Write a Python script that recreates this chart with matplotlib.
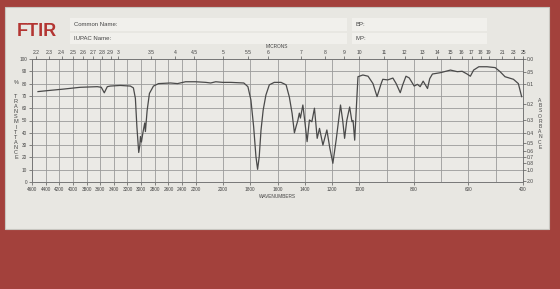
import matplotlib.pyplot as plt
import numpy as np
from matplotlib.patches import Rectangle

plt.rcParams['font.family'] = ['Liberation Sans Narrow', 'Liberation Sans', 'DejaVu Sans']

# spectrum (wavenumber cm-1, %T)
wavenumber = [4512, 4335, 4144, 3893, 3643, 3584, 3540, 3496, 3452, 3305, 3157, 3113,
              3084, 3062, 3035, 3018, 3010, 2995, 2974, 2947, 2937, 2912, 2878, 2819,
              2745, 2569, 2466, 2348, 2200, 2126, 2090, 2053, 2001, 1942, 1847, 1817,
              1795, 1775, 1758, 1746, 1734, 1721, 1705, 1685, 1660, 1624, 1574, 1537,
              1513, 1493, 1476, 1464, 1451, 1440, 1432, 1414, 1398, 1383, 1366, 1348,
              1329, 1309, 1292, 1267, 1238, 1217, 1194, 1169, 1138, 1122, 1108, 1092,
              1071, 1054, 1046, 1034, 1022, 1010, 987, 968, 950, 935, 920, 914,
              896, 877, 865, 850, 841, 829, 817, 799, 787, 777, 766, 759,
              750, 742, 732, 702, 666, 641, 623, 605, 593, 581, 562, 532,
              502, 484, 466, 435, 417, 405]
transmittance = [73.5, 74.5, 75.5, 77, 77.5, 77, 72.5, 77.5, 78, 78.5, 78, 76.5,
                 68, 45, 24, 30, 37, 32.5, 40, 48, 41, 58, 72, 78,
                 80, 80.5, 80, 81.5, 81.5, 81, 80.5, 81.5, 81, 81, 80.5, 77.5,
                 66.7, 45, 20.6, 10.3, 20.6, 42, 58.5, 70.7, 79, 81, 81, 79,
                 69, 55.8, 40, 45, 50, 56, 52, 62.6, 47.7, 32.8, 50.4, 49,
                 60, 35.5, 43.6, 30, 42.3, 28, 15.2, 35, 62.6, 50, 35.5, 50,
                 61, 49, 50, 34, 60, 85.6, 87, 86, 80, 69.4, 80, 83.5,
                 83, 84.5, 80, 72.6, 79, 86, 84.6, 78, 79.4, 77.5, 82, 79.4,
                 76, 84, 87.8, 88.9, 91, 89.7, 90, 87.8, 86, 91, 93.7, 93.7,
                 93, 89.7, 85.6, 83.5, 80, 69.4]

wn_labels = [4600, 4400, 4200, 4000, 3800, 3600, 3400, 3200, 3000, 2800, 2600, 2400,
             2200, 2000, 1800, 1600, 1400, 1200, 1000, 800, 600, 400]
wn_minor = [900, 700, 500]
microns = ['2.2', '2.3', '2.4', '2.5', '2.6', '2.7', '2.8', '2.9', '3', '3.5', '4', '4.5',
           '5', '5.5', '6', '7', '8', '9', '10', '11', '12', '13', '14', '15', '16', '17',
           '18', '19', '21', '23', '25']
absorb = ['0.0', '.05', '0.1', '0.2', '0.3', '0.4', '0.5', '0.6', '0.7', '0.8', '1.0', '2.0']


# the chart paper has 3 equal-width sections: 4600-2200, 2200-1000, 1000-400
def fwd(w):
    w = np.asarray(w, dtype=float)
    return np.where(w <= 1000, (w - 400) / 600,
                    np.where(w <= 2200, 1 + (w - 1000) / 1200, 2 + (w - 2200) / 2400))


def inv(p):
    p = np.asarray(p, dtype=float)
    return np.where(p <= 1, 400 + 600 * p,
                    np.where(p <= 2, 1000 + 1200 * (p - 1), 2200 + 2400 * (p - 2)))


W, H = 560, 289
fig = plt.figure(figsize=(5.6, 2.89), dpi=100, facecolor='#a3413c')
fig.add_artist(Rectangle((5 / W, 1 - 229 / H), 544 / W, 222 / H, transform=fig.transFigure,
                         facecolor='#e8e7e2', edgecolor='#c8c6c0', lw=0.8, zorder=-2))
# name boxes
for x0, x1, y0, y1 in [(70, 347, 18, 31), (70, 347, 33, 44), (352, 487, 18, 31), (352, 487, 33, 44)]:
    fig.add_artist(Rectangle((x0 / W, 1 - y1 / H), (x1 - x0) / W, (y1 - y0) / H,
                             transform=fig.transFigure, facecolor='#f1f0ec', edgecolor='none',
                             zorder=-1))

fig.text(17 / W, 1 - 31 / H, 'FTIR', fontsize=13, fontweight='bold', color='#b33532', va='center')
fig.text(74 / W, 1 - 24.5 / H, 'Common Name:', fontsize=4.3, color='#444444', va='center')
fig.text(74 / W, 1 - 38.5 / H, 'IUPAC Name:', fontsize=4.3, color='#444444', va='center')
fig.text(356 / W, 1 - 24.5 / H, 'BP:', fontsize=4.3, color='#444444', va='center')
fig.text(356 / W, 1 - 38.5 / H, 'MP:', fontsize=4.3, color='#444444', va='center')

ax = fig.add_axes([32 / W, 1 - 182 / H, 491 / W, 123 / H])
ax.set_facecolor('#ebeae6')
ax.set_xscale('function', functions=(fwd, inv))
ax.plot(wavenumber, transmittance, color='#4a4a4a', lw=0.9)
ax.set_xlim(4600, 400)
ax.set_ylim(0, 100)

ax.set_xticks(wn_labels)
ax.set_xticklabels([str(v) for v in wn_labels])
ax.set_xticks(wn_minor, minor=True)
ax.set_yticks(range(0, 101, 10))
ax.grid(which='both', color='#9a9a9a', lw=0.6)
ax.tick_params(axis='both', which='both', labelsize=3.4, length=2, width=0.5, pad=1.5,
               colors='#555555', labelcolor='#444444')
ax.tick_params(axis='x', which='minor', length=0)
for s in ax.spines.values():
    s.set_color('#777777')
    s.set_linewidth(0.7)

# microns on top
ax2 = ax.twiny()
ax2.set_xscale('function', functions=(fwd, inv))
ax2.set_xlim(4600, 400)
ax2.set_xticks([10000 / float(m) for m in microns])
ax2.set_xticklabels(microns)
ax2.tick_params(labelsize=3.6, length=2, width=0.5, pad=0.8, colors='#555555', labelcolor='#444444')
ax2.set_xticks([], minor=True)

# absorbance on right
ax3 = ax.twinx()
ax3.set_ylim(0, 100)
ax3.set_yticks([100 * 10 ** (-float(a)) for a in absorb])
ax3.set_yticklabels(absorb)
ax3.tick_params(labelsize=3.6, length=2, width=0.5, pad=0.8, colors='#555555', labelcolor='#444444')
ax3.set_yticks([], minor=True)
for a in (ax2, ax3):
    for s in a.spines.values():
        s.set_visible(False)

fig.text(277 / W, 1 - 47 / H, 'MICRONS', fontsize=3.4, color='#444444', ha='center', va='center')
fig.text(277 / W, 1 - 196 / H, 'WAVENUMBERS', fontsize=3.4, color='#444444', ha='center', va='center')
fig.text(16 / W, 1 - 82 / H, '%', fontsize=4, color='#444444', ha='center', va='center')
fig.text(16 / W, 1 - 127 / H, '\n'.join('TRANSMITTANCE'), fontsize=4, color='#444444',
         ha='center', va='center', linespacing=1.03)
fig.text(540 / W, 1 - 124 / H, '\n'.join('ABSORBANCE'), fontsize=3.6, color='#444444',
         ha='center', va='center', linespacing=1.05)

fig.savefig('out.png', dpi=100, facecolor=fig.get_facecolor())
